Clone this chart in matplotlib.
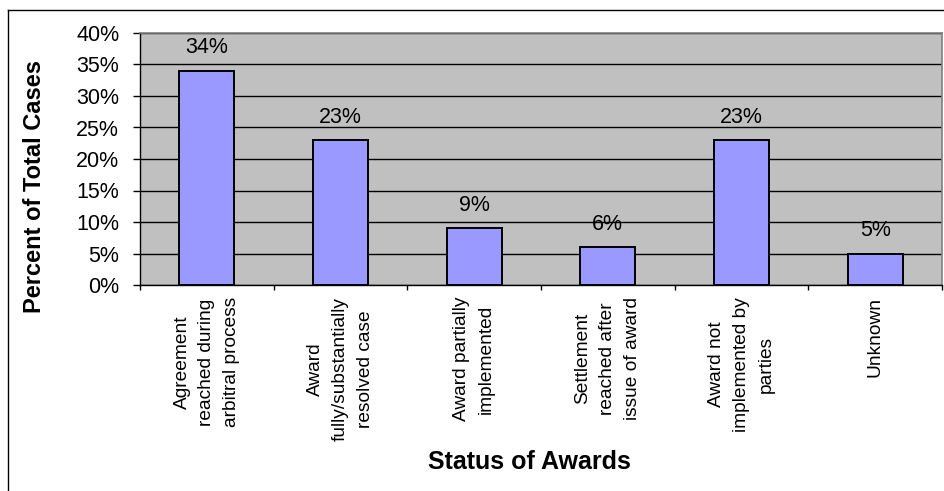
import numpy as np
import matplotlib
matplotlib.use('Agg')
from matplotlib import pyplot as plt
from matplotlib.lines import Line2D

plt.rcParams['font.family'] = ['Liberation Sans', 'DejaVu Sans']

categories = ['Agreement\nreached during\narbitral process',
              'Award\nfully/substantially\nresolved case',
              'Award partially\nimplemented',
              'Settlement\nreached after\nissue of award',
              'Award not\nimplemented by\nparties',
              'Unknown']
values = [34, 23, 9, 6, 23, 5]
yticks = [0, 5, 10, 15, 20, 25, 30, 35, 40]
ytick_labels = ['%d%%' % v for v in yticks]

W, H = 945, 491
fig = plt.figure(figsize=(W / 100, H / 100), dpi=100)
ax = fig.add_axes([140 / W, 1 - 285 / H, (942 - 140) / W, (285 - 33) / H])
ax.set_facecolor('#C0C0C0')

x = np.arange(len(values))
bars = ax.bar(x, values, width=0.41, color='#9999FF', edgecolor='black',
              linewidth=1.4, zorder=3)

for b, v in zip(bars, values):
    ax.annotate('%d%%' % v, (b.get_x() + b.get_width() / 2, v),
                xytext=(0, 9), textcoords='offset points',
                ha='center', va='bottom', fontsize=15.5)

ax.set_xlim(-0.5, len(values) - 0.5)
ax.set_ylim(0, 40)
ax.set_yticks(yticks)
ax.set_yticklabels(ytick_labels, fontsize=15.5)
ax.yaxis.grid(True, color='black', linewidth=1, zorder=1)
ax.set_axisbelow(True)

# ticks on category boundaries, labels at centres
ax.set_xticks(np.arange(len(values) + 1) - 0.5)
ax.set_xticklabels([])
ax.set_xticks(x, minor=True)
ax.set_xticklabels(categories, minor=True, rotation=90, fontsize=13.8,
                   va='top', ha='center', multialignment='center',
                   linespacing=1.6)
ax.tick_params(axis='x', which='major', length=3.6, width=1, direction='out')
ax.tick_params(axis='x', which='minor', length=0, pad=8.5)
ax.tick_params(axis='y', length=5, width=1, direction='out', pad=10)

for s in ['left', 'bottom']:
    ax.spines[s].set_color('black')
    ax.spines[s].set_linewidth(1)
for s in ['top', 'right']:
    ax.spines[s].set_color('#808080')
    ax.spines[s].set_linewidth(1.2)

fig.text(35 / W, 1 - 187 / H, 'Percent of Total Cases', rotation=90,
         ha='center', va='center', fontsize=17, fontweight='bold')
fig.text(529 / W, 1 - 462 / H, 'Status of Awards', ha='center', va='center',
         fontsize=18, fontweight='bold')

# chart border (left and top edges only visible)
fig.add_artist(Line2D([8 / W, 8 / W], [0, 1 - 10 / H], color='black', linewidth=1))
fig.add_artist(Line2D([8 / W, 1], [1 - 10 / H, 1 - 10 / H], color='black', linewidth=1))

fig.savefig('out.png', dpi=100)
